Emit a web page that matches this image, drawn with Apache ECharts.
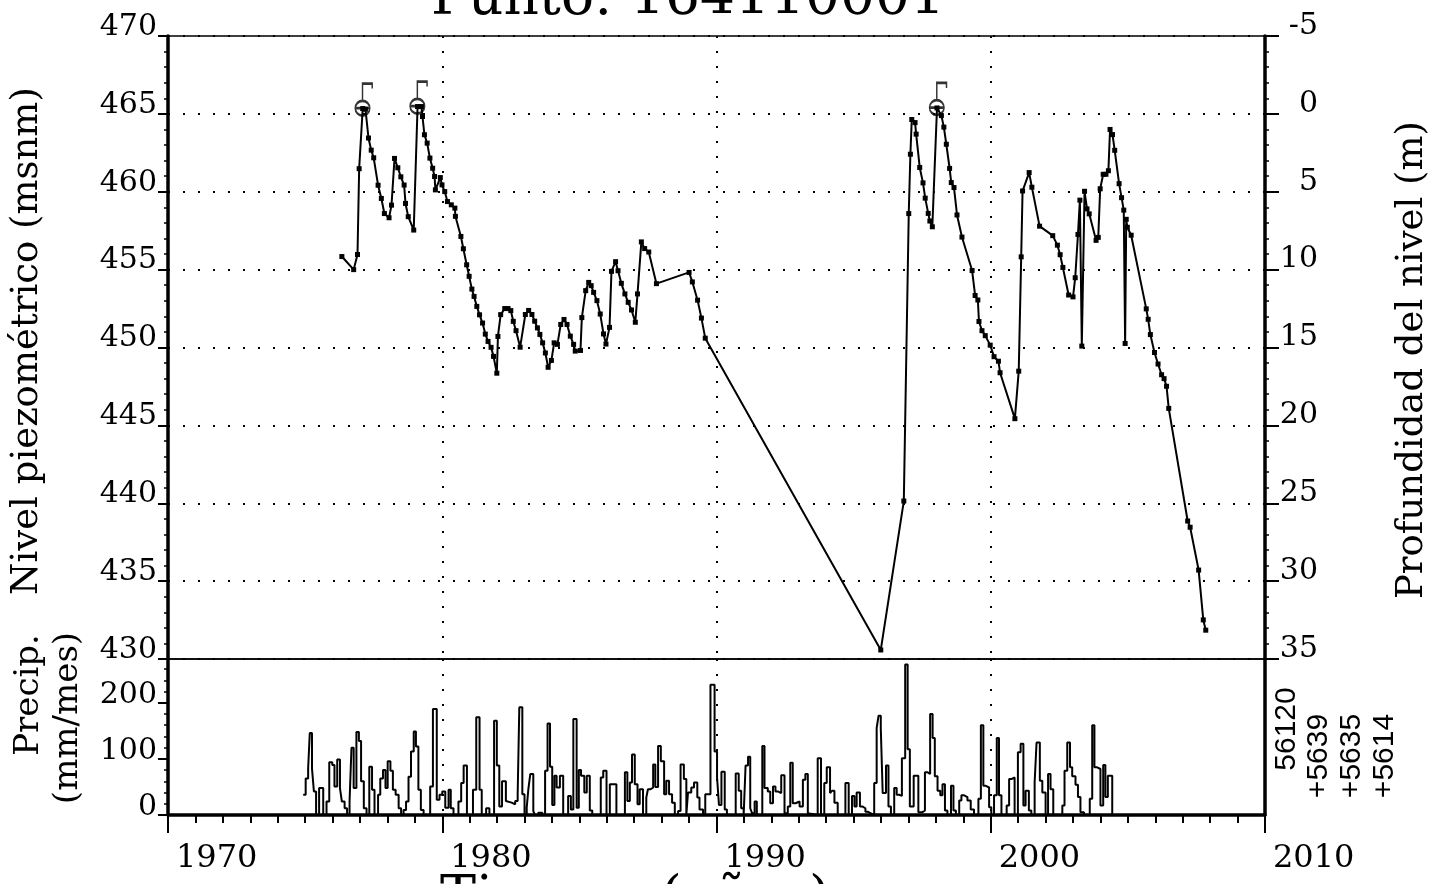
<!DOCTYPE html>
<html>
<head>
<meta charset="utf-8">
<script src="https://cdn.jsdelivr.net/npm/echarts@6/dist/echarts.min.js"></script>
<style>
html,body{margin:0;padding:0;background:#fff;}
#chart{width:1432px;height:884px;}
</style>
</head>
<body>
<div id="chart"></div>
<script>
// ---- Piezometric level (msnm) ----
const levelYears = [1976.34,1976.77,1976.91,1976.97,1977.10,1977.20,1977.31,1977.41,1977.50,1977.66,1977.78,1977.89,1978.06,1978.15,1978.26,1978.38,1978.49,1978.61,1978.66,1978.76,1978.96,1979.10,1979.24,1979.28,1979.35,1979.45,1979.55,1979.65,1979.72,1979.75,1979.93,1979.99,1980.09,1980.19,1980.33,1980.46,1980.48,1980.68,1980.77,1980.89,1980.98,1981.08,1981.16,1981.26,1981.36,1981.47,1981.57,1981.67,1981.78,1981.87,1981.99,1982.03,1982.13,1982.28,1982.40,1982.50,1982.59,1982.69,1982.84,1983.03,1983.15,1983.27,1983.37,1983.47,1983.56,1983.66,1983.76,1983.86,1983.98,1984.08,1984.20,1984.32,1984.44,1984.55,1984.67,1984.79,1984.85,1985.04,1985.09,1985.23,1985.34,1985.43,1985.52,1985.64,1985.76,1985.88,1985.97,1986.10,1986.17,1986.32,1986.41,1986.53,1986.66,1986.78,1986.90,1987.04,1987.12,1987.26,1987.38,1987.53,1987.81,1989.00,1989.12,1989.31,1989.45,1989.59,1995.99,1996.83,1997.01,1997.07,1997.12,1997.24,1997.28,1997.41,1997.53,1997.61,1997.72,1997.78,1997.87,1998.04,1998.20,1998.29,1998.38,1998.50,1998.56,1998.66,1998.77,1998.95,1999.32,1999.43,1999.53,1999.57,1999.68,1999.80,1999.98,2000.12,2000.28,2000.34,2000.88,2001.02,2001.11,2001.16,2001.40,2001.50,2001.78,2002.26,2002.43,2002.53,2002.63,2002.84,2003.00,2003.08,2003.18,2003.25,2003.32,2003.42,2003.51,2003.59,2003.84,2003.92,2003.99,2004.10,2004.20,2004.29,2004.35,2004.44,2004.52,2004.68,2004.77,2004.85,2004.90,2004.94,2004.98,2005.12,2005.67,2005.74,2005.82,2005.97,2006.10,2006.23,2006.32,2006.41,2006.49,2007.18,2007.27,2007.58,2007.75,2007.84];
const levelValues = [455.84,455.00,455.97,461.48,465.34,465.30,463.45,462.67,462.18,460.42,459.57,458.60,458.33,459.14,462.14,461.54,460.96,460.43,459.25,458.40,457.54,465.47,465.47,464.83,463.66,463.12,462.16,461.51,460.98,460.12,460.91,460.44,460.01,459.37,459.16,458.95,458.42,457.13,456.34,455.31,454.57,453.75,453.28,452.64,452.10,451.57,450.86,450.39,450.01,449.43,448.35,450.71,452.11,452.50,452.50,452.37,451.68,451.08,450.02,452.12,452.38,452.12,451.69,451.26,450.84,450.30,449.65,448.73,449.17,450.30,450.20,451.48,451.80,451.48,450.73,450.20,449.77,449.81,451.92,453.65,454.18,453.97,453.54,453.01,452.15,450.87,450.22,451.29,454.89,455.51,454.93,454.12,453.44,452.90,452.41,451.62,453.44,456.78,456.35,456.13,454.10,454.82,454.21,453.04,451.89,450.60,430.58,440.14,458.60,462.41,464.64,464.44,463.70,461.56,460.57,459.59,458.61,458.12,457.75,465.38,464.89,464.15,463.05,461.50,460.59,460.27,458.51,457.09,454.94,453.34,453.05,451.67,451.08,450.76,450.15,449.41,449.12,448.38,445.43,448.48,455.82,460.05,461.23,460.29,457.79,457.18,456.57,455.96,455.14,453.37,453.25,454.48,457.26,459.46,450.09,460.03,458.90,458.58,456.88,457.07,460.19,461.12,461.12,461.35,464.00,463.67,462.66,460.52,459.62,458.82,450.26,458.23,457.72,457.21,452.48,451.81,450.83,449.68,448.94,448.25,448.00,447.51,446.09,438.86,438.46,435.71,432.51,431.85];

// ---- Flowing-well (surgente) markers ----
const flowYears = [1977.10, 1979.10, 1998.04];
const flowLevels = [465.34, 465.47, 465.38];

// ---- Monthly precipitation (mm/mes): step start year and value ----
const precipYears = [1974.93,1975.02,1975.11,1975.17,1975.25,1975.32,1975.40,1975.51,1975.66,1975.78,1975.88,1975.99,1976.07,1976.17,1976.27,1976.34,1976.44,1976.53,1976.62,1976.69,1976.77,1976.87,1976.96,1977.04,1977.14,1977.24,1977.34,1977.44,1977.53,1977.66,1977.74,1977.84,1977.93,1978.01,1978.11,1978.20,1978.30,1978.41,1978.50,1978.59,1978.68,1978.77,1978.86,1978.96,1979.04,1979.13,1979.22,1979.32,1979.56,1979.66,1979.80,1979.90,1980.00,1980.11,1980.23,1980.31,1980.41,1980.59,1980.69,1980.78,1980.90,1981.12,1981.24,1981.36,1981.44,1981.60,1981.72,1981.89,1981.99,1982.08,1982.18,1982.32,1982.39,1982.53,1982.66,1982.75,1982.81,1982.92,1983.00,1983.08,1983.14,1983.21,1983.32,1983.38,1983.50,1983.65,1983.75,1983.84,1983.93,1984.01,1984.09,1984.17,1984.29,1984.41,1984.59,1984.69,1984.78,1984.90,1984.98,1985.06,1985.18,1985.27,1985.38,1985.47,1985.78,1985.87,1985.99,1986.11,1986.35,1986.66,1986.75,1986.84,1986.92,1987.02,1987.12,1987.20,1987.32,1987.44,1987.50,1987.60,1987.69,1987.77,1987.87,1987.97,1988.09,1988.17,1988.27,1988.38,1988.48,1988.60,1988.69,1988.81,1988.90,1988.96,1989.08,1989.18,1989.30,1989.38,1989.51,1989.59,1989.78,1989.93,1990.02,1990.09,1990.18,1990.30,1990.38,1990.70,1990.81,1990.90,1990.99,1991.06,1991.15,1991.23,1991.30,1991.39,1991.47,1991.67,1991.75,1991.87,1991.96,1992.06,1992.15,1992.24,1992.36,1992.48,1992.60,1992.69,1992.78,1992.88,1993.03,1993.15,1993.24,1993.33,1993.39,1993.69,1993.81,1993.93,1994.02,1994.14,1994.21,1994.30,1994.42,1994.70,1994.82,1994.94,1995.03,1995.11,1995.23,1995.33,1995.43,1995.51,1995.63,1995.75,1995.84,1995.91,1995.99,1996.06,1996.18,1996.27,1996.36,1996.48,1996.57,1996.66,1996.76,1996.88,1996.97,1997.05,1997.19,1997.36,1997.51,1997.60,1997.70,1997.79,1997.88,1997.96,1998.06,1998.16,1998.24,1998.33,1998.42,1998.55,1998.64,1998.73,1998.85,1998.93,1999.03,1999.15,1999.27,1999.39,1999.55,1999.64,1999.73,1999.82,1999.94,2000.02,2000.12,2000.22,2000.30,2000.39,2000.58,2000.67,2000.75,2000.87,2000.99,2001.09,2001.19,2001.27,2001.39,2001.48,2001.60,2001.67,2001.79,2001.88,2002.00,2002.09,2002.18,2002.28,2002.61,2002.69,2002.79,2002.89,2002.97,2003.09,2003.18,2003.27,2003.40,2003.61,2003.70,2003.78,2003.88,2004.00,2004.10,2004.18,2004.27,2004.43];
const precipValues = [36,65,83,146,83,42,0,48,0,24,94,89,51,99,48,24,12,0,24,120,48,148,132,60,12,0,86,45,0,36,65,80,48,96,79,45,36,12,0,9,24,68,113,149,122,45,9,0,51,189,27,36,42,13,45,12,0,24,57,88,0,45,174,45,0,12,0,168,88,15,60,25,22,19,25,37,192,37,0,13,46,73,7,0,4,0,79,163,86,18,70,49,70,0,34,10,171,13,80,70,40,70,8,0,67,79,0,55,0,76,25,58,108,55,19,46,0,31,46,49,90,50,123,96,37,61,37,22,0,7,90,64,0,40,49,58,31,10,0,37,232,113,67,18,77,10,0,74,43,12,0,88,104,12,3,24,0,123,48,42,21,51,42,39,71,3,15,93,21,24,15,63,73,3,0,101,0,57,85,39,43,22,0,57,0,34,15,40,15,12,6,3,0,57,155,177,155,39,88,15,0,48,36,34,101,268,117,15,70,5,8,76,73,180,137,69,43,35,55,8,0,52,8,0,26,35,32,26,10,0,29,160,52,49,14,0,35,137,35,0,17,64,67,0,112,127,17,43,8,0,58,129,61,40,0,73,46,0,17,79,129,85,69,54,32,5,0,29,160,85,82,17,89,32,70,0];

// ---- Tick / label texts ----
const titleText = 'Punto: 164110001';
const xAxisName = 'Tiempo (años)';
const leftName = 'Nivel piezométrico (msnm)';
const rightName = 'Profundidad del nivel (m)';
const precipName1 = 'Precip.';
const precipName2 = '(mm/mes)';
const stationLabels = ['56120', '+5639', '+5635', '+5614'];

const SERIF = '"DejaVu Serif", "Liberation Serif", serif';
const SANS = '"Liberation Sans", Arial, sans-serif';
const dotted = {show: true, lineStyle: {color: '#000', width: 2, type: [2, 13]}};

const chart = echarts.init(document.getElementById('chart'), null, {renderer: 'canvas'});

const levelData = levelYears.map((y, i) => [y, levelValues[i]]);
const flowData = flowYears.map((y, i) => [y, flowLevels[i]]);
const precipData = precipYears.map((y, i) => [y, precipValues[i]]);

const flagPath = 'path://M13,23 A6,6 0 1,1 1,23 A6,6 0 1,1 13,23 Z M1,23 L13,23 M7,17 L7,3 L15,3 L15,7';

const yLabel = {fontFamily: SERIF, fontSize: 30, color: '#000', verticalAlign: 'bottom'};

const option = {
  backgroundColor: '#fff',
  animation: false,
  grid: [
    {left: 168, width: 1097, top: 36, height: 623, show: true, borderColor: '#000', borderWidth: 1.5},
    {left: 168, width: 1097, top: 659, height: 156, show: true, borderColor: '#000', borderWidth: 1.5}
  ],
  xAxis: [
    {gridIndex: 0, type: 'value', min: 1970, max: 2010, interval: 10,
      axisLine: {show: false}, axisTick: {show: false}, axisLabel: {show: false},
      splitLine: dotted},
    {gridIndex: 1, type: 'value', min: 1970, max: 2010, interval: 10,
      axisLine: {show: true, onZero: false, lineStyle: {color: '#000', width: 3.5}},
      axisTick: {show: true, length: 18, lineStyle: {color: '#000', width: 2}},
      minorTick: {show: true, splitNumber: 10, length: 8, lineStyle: {color: '#000', width: 2}},
      axisLabel: {show: true, align: 'left', margin: 28, padding: [0, 0, 0, 8],
        fontFamily: SERIF, fontSize: 32, color: '#000', formatter: v => String(v)},
      splitLine: dotted}
  ],
  yAxis: [
    {gridIndex: 0, type: 'value', min: 430, max: 470, interval: 5, position: 'left',
      axisLine: {show: true, lineStyle: {color: '#000', width: 3.5}},
      axisTick: {show: true, length: 10, lineStyle: {color: '#000', width: 2}},
      minorTick: {show: true, splitNumber: 5, length: 4, lineStyle: {color: '#000', width: 1.5}},
      axisLabel: Object.assign({}, yLabel, {margin: 11, lineHeight: 18}),
      splitLine: dotted},
    {gridIndex: 0, type: 'value', min: -5, max: 35, interval: 5, inverse: true, position: 'right',
      axisLine: {show: true, lineStyle: {color: '#000', width: 3.5}},
      axisTick: {show: true, length: 14, lineStyle: {color: '#000', width: 2}},
      minorTick: {show: true, splitNumber: 5, length: 4, lineStyle: {color: '#000', width: 1.5}},
      axisLabel: Object.assign({}, yLabel, {margin: 53, align: 'right', lineHeight: 20}),
      splitLine: {show: false}},
    {gridIndex: 1, type: 'value', min: 0, max: 278, interval: 100, position: 'left',
      axisLine: {show: true, lineStyle: {color: '#000', width: 3.5}},
      axisTick: {show: true, length: 10, lineStyle: {color: '#000', width: 2}},
      minorTick: {show: true, splitNumber: 5, length: 4, lineStyle: {color: '#000', width: 1.5}},
      axisLabel: Object.assign({}, yLabel, {margin: 11, lineHeight: 16,
        formatter: v => (v % 100 === 0 ? String(v) : '')}),
      splitLine: {show: false}},
    {gridIndex: 1, type: 'value', min: 0, max: 278, position: 'right',
      axisLine: {show: true, lineStyle: {color: '#000', width: 3.5}},
      axisTick: {show: false}, axisLabel: {show: false}, splitLine: {show: false}}
  ],
  series: [
    {type: 'line', xAxisIndex: 0, yAxisIndex: 0, data: levelData,
      symbol: 'rect', symbolSize: 5, showAllSymbol: true,
      itemStyle: {color: '#000'}, lineStyle: {color: '#000', width: 2}, z: 3},
    {type: 'scatter', xAxisIndex: 0, yAxisIndex: 0, data: flowData,
      symbol: flagPath, symbolSize: [17, 32], symbolOffset: [1, -9],
      itemStyle: {color: 'rgba(0,0,0,0)', borderColor: '#000', borderWidth: 2}, z: 4},
    {type: 'line', xAxisIndex: 1, yAxisIndex: 2, data: precipData, step: 'end',
      symbol: 'none', lineStyle: {color: '#000', width: 2}, z: 3}
  ],
  graphic: [
    {type: 'text', x: 688, y: 27, style: {text: titleText, font: '55px ' + SERIF, fill: '#000', textAlign: 'center', textVerticalAlign: 'bottom'}},
    {type: 'text', x: 635, y: 873, style: {text: xAxisName, font: '54px ' + SERIF, fill: '#000', textAlign: 'center', textVerticalAlign: 'top'}},
    {type: 'text', x: 27, y: 341, rotation: Math.PI / 2, style: {text: leftName, font: '37px ' + SERIF, fill: '#000', textAlign: 'center', textVerticalAlign: 'middle'}},
    {type: 'text', x: 1412, y: 360, rotation: Math.PI / 2, style: {text: rightName, font: '37px ' + SERIF, fill: '#000', textAlign: 'center', textVerticalAlign: 'middle'}},
    {type: 'text', x: 29, y: 695, rotation: Math.PI / 2, style: {text: precipName1, font: '34px ' + SERIF, fill: '#000', textAlign: 'center', textVerticalAlign: 'middle'}},
    {type: 'text', x: 68, y: 718, rotation: Math.PI / 2, style: {text: precipName2, font: '34px ' + SERIF, fill: '#000', textAlign: 'center', textVerticalAlign: 'middle'}},
    {type: 'text', x: 1287, y: 729, rotation: Math.PI / 2, style: {text: stationLabels[0], font: '30px ' + SANS, fill: '#000', textAlign: 'center', textVerticalAlign: 'middle'}},
    {type: 'text', x: 1319, y: 756, rotation: Math.PI / 2, style: {text: stationLabels[1], font: '30px ' + SANS, fill: '#000', textAlign: 'center', textVerticalAlign: 'middle'}},
    {type: 'text', x: 1352, y: 756, rotation: Math.PI / 2, style: {text: stationLabels[2], font: '30px ' + SANS, fill: '#000', textAlign: 'center', textVerticalAlign: 'middle'}},
    {type: 'text', x: 1385, y: 756, rotation: Math.PI / 2, style: {text: stationLabels[3], font: '30px ' + SANS, fill: '#000', textAlign: 'center', textVerticalAlign: 'middle'}}
  ]
};
chart.setOption(option);
</script>
</body>
</html>
